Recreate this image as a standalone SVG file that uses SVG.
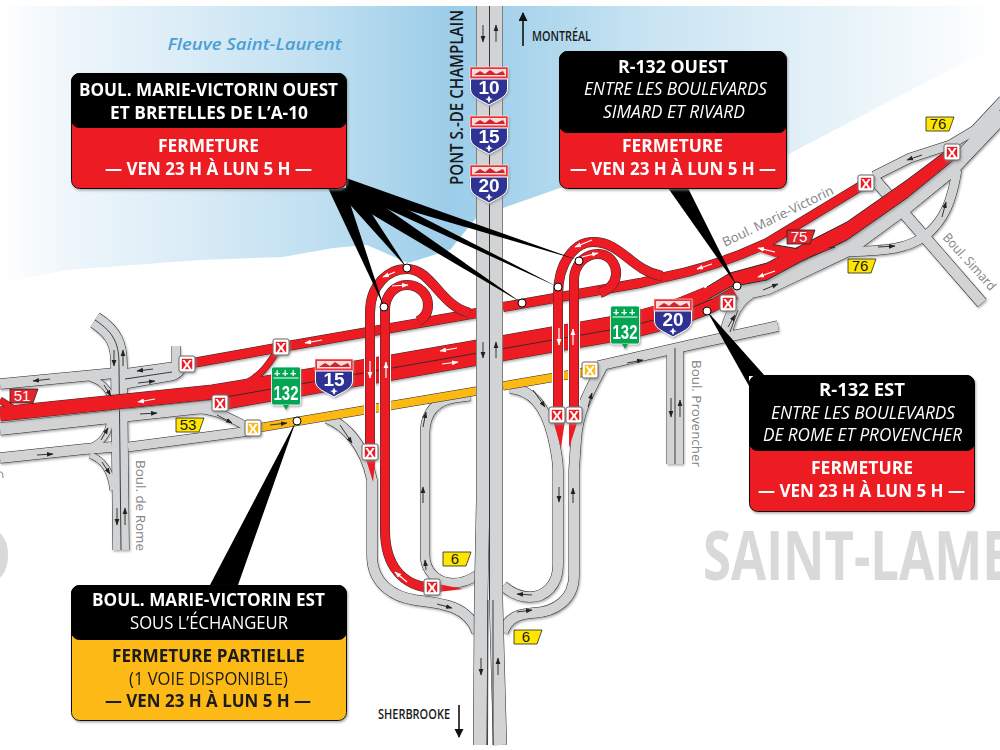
<svg xmlns="http://www.w3.org/2000/svg" width="1000" height="750" viewBox="0 0 1000 750">
<style>
.n{fill:none}
.k{fill:none;stroke:#2b2b2b}.g{fill:none;stroke:#d1d3d4}.r{fill:none;stroke:#ed1c24}.y{fill:none;stroke:#fdb913}.h{fill:none;stroke:#fff}
.l{fill:none;stroke:#2b2b2b;stroke-width:.9}
.w6{stroke-width:6}.w7{stroke-width:7}.w8{stroke-width:8}.w9{stroke-width:9}.w10{stroke-width:10}.w11{stroke-width:11}.w12{stroke-width:12}.w13{stroke-width:13}.w14{stroke-width:14}.w15{stroke-width:15}.w16{stroke-width:16}.w17{stroke-width:17}
.a{fill:none;stroke:#222;stroke-width:.9;marker-end:url(#ab)}
.aw{fill:none;stroke:#fff;stroke-width:1.2;marker-end:url(#aw)}
.big{fill:none;stroke:#111;stroke-width:1.6;marker-end:url(#abig)}
text{font-family:"Open Sans","Noto Sans","Liberation Sans",sans-serif}
.b{font-weight:700}.i{font-style:italic}
.wt{fill:#fff}.dk{fill:#1a1a1a}
.t{font-size:18px}
.lab{font-size:13px;fill:#808285}
.xr{fill:#ed1c24;stroke:#fff;stroke-width:1.6}.xy{fill:#fdb913;stroke:#fff;stroke-width:1.6}
.xf{fill:#fff;stroke:#666;stroke-width:1}
.xt{font-family:"Liberation Sans",sans-serif;font-weight:700;font-size:15px;fill:#fff;text-anchor:middle}
.ex{stroke:#222;stroke-width:.8;stroke-linejoin:round}
.ext{font-family:"Liberation Sans",sans-serif;font-size:15px;text-anchor:middle}
.sh{font-family:"Liberation Sans",sans-serif;font-weight:700;font-size:19px;fill:#fff;text-anchor:middle}
.gr{font-family:"Liberation Sans",sans-serif;font-weight:700;fill:#fff;text-anchor:middle}
.ld{fill:#000}.dot{fill:#fff;stroke:#000;stroke-width:1}
</style>
<defs>
<linearGradient id="w" gradientUnits="userSpaceOnUse" x1="0" y1="0" x2="1000" y2="0">
<stop offset="0" stop-color="#fff"/><stop offset=".07" stop-color="#eef6fb"/><stop offset=".2" stop-color="#d8ebf6"/><stop offset=".32" stop-color="#bfdff1"/><stop offset=".45" stop-color="#9ccde9"/><stop offset=".52" stop-color="#a8d4ec"/><stop offset=".66" stop-color="#cbe5f3"/><stop offset=".82" stop-color="#e4f1f8"/><stop offset="1" stop-color="#fff"/>
</linearGradient>
<filter id="s" x="-5%" y="-5%" width="110%" height="110%"><feDropShadow dx="1" dy="1.5" stdDeviation=".8" flood-color="#888" flood-opacity=".7"/></filter>
<marker id="ab" markerUnits="userSpaceOnUse" markerWidth="7" markerHeight="6" refX="6" refY="3" orient="auto"><path d="M0,.6L6.500,3L0,5.400z" fill="#222"/></marker>
<marker id="aw" markerUnits="userSpaceOnUse" markerWidth="7" markerHeight="6" refX="6" refY="3" orient="auto"><path d="M0,.6L6.500,3L0,5.400z" fill="#fff"/></marker>
<marker id="abig" markerUnits="userSpaceOnUse" markerWidth="9" markerHeight="12" refX="8" refY="4.500" orient="auto"><path d="M0,0L9,4.500L0,9z" fill="#111"/></marker>
<path id="rome" d="M95,320C115,333 119,345 119,365L121,550"/>
<path id="w1" d="M0,384L115,373"/><path id="w2" d="M90,378C103,382 110,390 112,402"/>
<path id="e1" d="M125,374L182,366"/><path id="e2" d="M125,384L172,376Q182,372 180,366"/><path id="e3" d="M176,346L176,364"/>
<path id="s1" d="M0,458L85,449L112,447"/><path id="s2" d="M85,449C100,445 108,435 110,422"/><path id="s3" d="M90,455C103,460 111,470 113,490"/>
<path id="s4" d="M128,447L250,431"/><path id="m" d="M0,429L213,406"/><path id="m2" d="M190,409C215,408 230,418 250,428"/>
<path id="gr" d="M730,295L767,287L847,249L907,205L950,170L1003,114"/>
<path id="gr2" d="M750,293Q733,303 726,333"/>
<path id="sv" d="M874,176L910,158L950,145L975,130L1003,100"/>
<path id="si" d="M875,180L982,303"/>
<path id="rp" d="M957,170C952,200 945,220 925,236C905,250 885,250 850,252"/>
<path id="mve" d="M598,366L690,345L778,326"/><path id="pr" d="M675,348L675,464"/>
<path id="eL" d="M510,388C530,390 545,403 553,437C556,450 558,460 558,470L558,565C558,585 545,597 530,597C518,597 510,592 503,586"/>
<path id="eR" d="M603,365C590,390 578,410 576,440L574,470L574,575C574,600 555,612 533,613C518,614 508,618 503,632"/>
<path id="wO" d="M327,418C345,425 365,445 372,480L372,555C372,585 395,597 415,600C440,603 468,605 477,632"/>
<path id="wI" d="M470,396L455,398Q426,402 425,432L425,555C425,572 438,583 453,583C462,583 470,580 477,575"/>
<path id="yw" d="M258,428L477,391"/><path id="ye" d="M503,386L585,372"/>
<path id="nb" d="M0,414L213,392L392,362L610,324C650,317 680,306 707,294"/>
<path id="sb" d="M220,404L392,374L610,336C650,329 685,318 712,306L735,293"/>
<path id="upw" d="M187,364L282,347L477,313"/>
<path id="upe" d="M503,307L640,283L665,277C700,270 735,258 767,243L866,183"/>
<path id="oW" d="M370,452L370,313C370,285 388,269 407,269C432,269 440,306 470,313"/>
<path id="iW" d="M432,588C402,586 385,565 385,530L385,310C385,295 395,285 407,285C420,285 428,295 428,305C428,312 425,318 418,321"/>
<path id="oE" d="M558,418L558,295C558,262 575,242 593,242C622,242 630,270 662,276"/>
<path id="iE" d="M574,418L574,280C574,265 585,254 598,254C610,254 617,265 616,275C615,285 608,290 600,293"/>
<path id="bL" d="M483,6L483,500L481,600L480,745"/><path id="bR" d="M496,6L496,600L500,745"/>
<g id="shield">
<rect x="-19" y="0" width="38" height="12" fill="#ed3237" stroke="#fff" stroke-width=".5"/>
<rect x="-17" y="2" width="34" height="7.500" fill="#f9dcdc"/>
<path d="M-15,8L-9,4L-4,7L1,3L7,7L14,4L16,8z" fill="#d2232a"/>
<path d="M-18.500,12L18.500,12L18.500,22C18.500,30 8,33 0,38C-8,33 -18.500,30 -18.500,22z" fill="#2e3192" stroke="#fff" stroke-width="1"/>
<path d="M0,28.500L1.500,31.400L4,32L1.500,33L0,36L-1.500,33L-4,32L-1.500,31.400z" fill="#fff"/>
</g>
<g id="grn">
<rect x="-14.500" y="0" width="29" height="38" rx="2" fill="#00a651" stroke="#fff" stroke-width=".8"/>
<line x1="-12.500" x2="12.500" y1="11" y2="11" stroke="#fff" stroke-width="1"/>
<path d="M-3,38L3,38L0,43z" fill="#00a651"/>
</g>
<path id="exs" d="M0,0L28,0L23,14L0,14z"/>
</defs>

<rect width="1000" height="750" fill="#fff"/>
<path d="M0,6L1000,6L1000,45L930,80L787,155L700,165L560,188L503,208L476,218L450,250L408,263L367,245L333,248L283,257L200,260L67,270L0,283z" fill="url(#w)"/>
<text x="167.500" y="50" class="i" font-size="16" font-weight="600" fill="#4a9fd4" textLength="174" lengthAdjust="spacingAndGlyphs">Fleuve Saint-Laurent</text>
<text x="703" y="580" class="b" font-size="68" fill="#d9d9da" textLength="405" lengthAdjust="spacingAndGlyphs">SAINT-LAMBERT</text>
<path d="M0,533C7,540 8,548 8,555C8,563 6,572 0,578z" fill="#d9d9da"/>
<path d="M0,472Q3,471 3,478" class="n" stroke="#808285" stroke-width="1"/>

<g id="roads">
<g id="roads-gray" filter="url(#s)">
<g>
<use href="#rome" class="k w17"/><use href="#w1" class="k w11"/><use href="#w2" class="k w7"/><use href="#e1" class="k w11"/><use href="#e2" class="k w10"/><use href="#e3" class="k w9"/><use href="#s1" class="k w11"/><use href="#s2" class="k w7"/><use href="#s3" class="k w7"/><use href="#s4" class="k w10"/><use href="#m" class="k w13"/><use href="#m2" class="k w9"/>
<use href="#si" class="k w12"/><use href="#gr" class="k w16"/><use href="#gr2" class="k w13"/><use href="#sv" class="k w10"/><use href="#rp" class="k w10"/><use href="#mve" class="k w11"/><use href="#pr" class="k w17"/><use href="#eL" class="k w11"/><use href="#eR" class="k w11"/><use href="#wO" class="k w11"/><use href="#wI" class="k w10"/>
</g>
<g>
<use href="#rome" class="g w16"/><use href="#w1" class="g w10"/><use href="#w2" class="g w6"/><use href="#e1" class="g w10"/><use href="#e2" class="g w9"/><use href="#e3" class="g w8"/><use href="#s1" class="g w10"/><use href="#s2" class="g w6"/><use href="#s3" class="g w6"/><use href="#s4" class="g w9"/><use href="#m" class="g w12"/><use href="#m2" class="g w8"/>
<use href="#si" class="g w11"/><use href="#gr" class="g w15"/><use href="#gr2" class="g w12"/><use href="#sv" class="g w9"/><use href="#rp" class="g w9"/><use href="#mve" class="g w10"/><use href="#pr" class="g w16"/><use href="#eL" class="g w10"/><use href="#eR" class="g w10"/><use href="#wO" class="g w10"/><use href="#wI" class="g w9"/>
</g>
<use href="#rome" class="l"/><use href="#pr" class="l"/><path class="l" d="M125,379L172,372"/><path class="l" d="M730,332L738,310"/>
</g>
<g id="roads-yellow">
<use href="#yw" class="k w9"/><use href="#ye" class="k w9"/><use href="#yw" class="y w8"/><use href="#ye" class="y w8"/>
</g>
<g id="roads-red-main" filter="url(#s)">
<g>
<use href="#nb" class="k w15"/><use href="#sb" class="k w13"/><use href="#upw" class="k w10"/><use href="#upe" class="k w10"/>
<path d="M278,350C268,365 262,375 245,384" class="k w7"/>
<path d="M0,400L14,409" class="k w7"/>
<path d="M707,287L730,273L767,263L800,246L847,222L907,180L947,150L956,158L907,198L847,240L800,262L767,280L730,287L707,300z" fill="#ed1c24" stroke="#2b2b2b" stroke-width="1"/>
<path d="M755,248L770,244L805,250L835,247L812,256L775,256z" fill="#ed1c24" stroke="#2b2b2b" stroke-width="1"/>
</g>
<use href="#nb" class="r w14"/><use href="#sb" class="r w12"/><use href="#upw" class="r w9"/><use href="#upe" class="r w9"/>
<path d="M278,350C268,365 262,375 245,384" class="r w6"/><path d="M0,400L14,409" class="r w6"/>
<path d="M700,291L730,275L767,264L800,247L847,223L907,181L947,151L955,158L907,197L847,239L800,261L767,279L730,286L700,300z" fill="#ed1c24"/>
<path d="M757,251L771,246L800,252L832,248L810,256L775,257z" fill="#ed1c24"/>
<path class="l" d="M220,398L392,368L610,330C650,323 685,311 712,299"/>
</g>
<g id="roads-bridge">
<use href="#bL" class="k w14"/><use href="#bR" class="k w14"/><use href="#bL" class="g w13"/><use href="#bR" class="g w13"/>
<path class="l" d="M489.500,6L489.500,600"/><path class="l" d="M488,600L487.500,745M493,600L493,745"/>
</g>
<g id="roads-loops">
<path class="h w12" d="M370,340L370,445M385,340L385,560M558,305L558,405M574,305L574,405"/>
<use href="#oW" class="k w10"/><use href="#iW" class="k w10"/><use href="#oE" class="k w10"/><use href="#iE" class="k w10"/>
<use href="#oW" class="r w9"/><use href="#iW" class="r w9"/><use href="#oE" class="r w9"/><use href="#iE" class="r w9"/>
<path d="M553,420L565,420L561,448zM569,420L578,420L569,448zM365,456L376,456L373,482zM438,584L438,592L463,589z" fill="#ed1c24"/>
</g>
<g id="arrows">
<path class="a" d="M483,25V42"/><path class="a" d="M496,42V25"/><path class="a" d="M483,342V358"/><path class="a" d="M496,358V342"/><path class="a" d="M481,658V675"/><path class="a" d="M498,675V658"/>
<path class="aw" d="M370,361V378"/><path class="aw" d="M386,378V362"/><path class="aw" d="M559,328V345"/><path class="aw" d="M573,345V329"/>
<path class="aw" d="M457,348L440,351"/><path class="aw" d="M442,364L458,362"/><path class="aw" d="M395,272L383,277"/><path class="aw" d="M392,286L408,285"/><path class="aw" d="M592,240L575,247"/><path class="aw" d="M582,257L598,253"/>
<path class="aw" d="M322,340L305,343"/><path class="aw" d="M712,264L697,269"/><path class="aw" d="M775,271L758,277"/><path class="aw" d="M775,252L758,248"/><path class="aw" d="M155,399L138,402"/><path class="aw" d="M263,360L253,373"/><path class="aw" d="M407,582L395,572"/>
<path class="a" d="M140,414L157,413"/><path class="a" d="M217,415L232,423"/><path class="a" d="M270,425L287,423"/><path class="a" d="M153,369L137,371"/><path class="a" d="M138,383L155,381"/><path class="a" d="M50,379L33,381"/><path class="a" d="M37,455L53,454"/>
<path class="a" d="M114,350V366"/><path class="a" d="M123,366V350"/><path class="a" d="M117,508V525"/><path class="a" d="M125,525V508"/>
<path class="a" d="M671,398V417"/><path class="a" d="M680,417V400"/><path class="a" d="M627,363L643,360"/><path class="a" d="M728,327L735,315"/>
<path class="a" d="M763,290L778,284"/><path class="a" d="M922,155L907,160"/><path class="a" d="M942,217L946,202"/><path class="a" d="M878,247L895,246"/>
<path class="a" d="M423,503V487"/><path class="a" d="M559,487V502"/><path class="a" d="M573,503V488"/><path class="a" d="M426,570L425,560"/><path class="a" d="M437,604L452,608"/><path class="a" d="M532,595L517,594"/><path class="a" d="M517,612L532,610"/>
<path class="a" d="M533,390L545,407"/><path class="a" d="M588,407L592,393"/><path class="a" d="M423,427L426,412"/><path class="a" d="M340,425L352,443"/>
<path class="a" d="M104,385L111,396"/><path class="a" d="M101,440L108,428"/><path class="a" d="M102,462L110,474"/>
</g>
</g>

<path class="big" d="M523,46V13"/>
<path class="big" d="M459,705V737"/>
<text x="532" y="41" class="dk" font-size="14.500" font-weight="600" textLength="59" lengthAdjust="spacingAndGlyphs">MONTRÉAL</text>
<text x="378" y="719" class="dk" font-size="15" font-weight="600" textLength="72" lengthAdjust="spacingAndGlyphs">SHERBROOKE</text>
<text transform="translate(463,185) rotate(-90) scale(.84,1)" class="dk" font-size="18" font-weight="600">PONT S.-DE CHAMPLAIN</text>
<text transform="translate(136,460) rotate(90)" class="lab" textLength="91" lengthAdjust="spacingAndGlyphs">Boul. de Rome</text>
<text transform="translate(692,360) rotate(90)" class="lab" textLength="107" lengthAdjust="spacingAndGlyphs">Boul. Provencher</text>
<text transform="translate(725,247) rotate(-26)" class="lab" textLength="122" lengthAdjust="spacingAndGlyphs">Boul. Marie-Victorin</text>
<text transform="translate(942,238) rotate(48)" class="lab" font-size="12" textLength="72" lengthAdjust="spacingAndGlyphs">Boul. Simard</text>

<g id="exit-51" transform="translate(10,389)"><use href="#exs" class="ex" fill="#e0262c"/><text x="12" y="12" class="ext wt">51</text></g>
<g id="exit-75" transform="translate(787,230)"><use href="#exs" class="ex" fill="#e0262c"/><text x="12" y="12" class="ext wt">75</text></g>
<g id="exit-76a" transform="translate(926,117)"><use href="#exs" class="ex" fill="#ffe600"/><text x="12" y="12" class="ext dk">76</text></g>
<g id="exit-76b" transform="translate(848,259)"><use href="#exs" class="ex" fill="#ffe600"/><text x="12" y="12" class="ext dk">76</text></g>
<g id="exit-53" transform="translate(176,418)"><use href="#exs" class="ex" fill="#ffe600"/><text x="12" y="12" class="ext dk">53</text></g>
<g id="exit-6a" transform="translate(443,552)"><use href="#exs" class="ex" fill="#ffe600"/><text x="12" y="12" class="ext dk">6</text></g>
<g id="exit-6b" transform="translate(514,630)"><use href="#exs" class="ex" fill="#ffe600"/><text x="12" y="12" class="ext dk">6</text></g>

<g id="x-marks" filter="url(#s)">
<g id="x1" transform="translate(952,152)"><rect x="-8" y="-8" width="16" height="16" rx="2" class="xf"/><rect x="-6" y="-6" width="12" height="12" class="xr"/><text y="5.500" class="xt">X</text></g>
<g id="x2" transform="translate(866,183)"><rect x="-8" y="-8" width="16" height="16" rx="2" class="xf"/><rect x="-6" y="-6" width="12" height="12" class="xr"/><text y="5.500" class="xt">X</text></g>
<g id="x3" transform="translate(728,303)"><rect x="-8" y="-8" width="16" height="16" rx="2" class="xf"/><rect x="-6" y="-6" width="12" height="12" class="xr"/><text y="5.500" class="xt">X</text></g>
<g id="x4" transform="translate(281,347)"><rect x="-8" y="-8" width="16" height="16" rx="2" class="xf"/><rect x="-6" y="-6" width="12" height="12" class="xr"/><text y="5.500" class="xt">X</text></g>
<g id="x5" transform="translate(187,364)"><rect x="-8" y="-8" width="16" height="16" rx="2" class="xf"/><rect x="-6" y="-6" width="12" height="12" class="xr"/><text y="5.500" class="xt">X</text></g>
<g id="x6" transform="translate(220,403)"><rect x="-8" y="-8" width="16" height="16" rx="2" class="xf"/><rect x="-6" y="-6" width="12" height="12" class="xr"/><text y="5.500" class="xt">X</text></g>
<g id="x7" transform="translate(253,428)"><rect x="-8" y="-8" width="16" height="16" rx="2" class="xf"/><rect x="-6" y="-6" width="12" height="12" class="xy"/><text y="5.500" class="xt">X</text></g>
<g id="x8" transform="translate(590,370)"><rect x="-8" y="-8" width="16" height="16" rx="2" class="xf"/><rect x="-6" y="-6" width="12" height="12" class="xy"/><text y="5.500" class="xt">X</text></g>
<g id="x9" transform="translate(557,415)"><rect x="-8" y="-8" width="16" height="16" rx="2" class="xf"/><rect x="-6" y="-6" width="12" height="12" class="xr"/><text y="5.500" class="xt">X</text></g>
<g id="x10" transform="translate(574,415)"><rect x="-8" y="-8" width="16" height="16" rx="2" class="xf"/><rect x="-6" y="-6" width="12" height="12" class="xr"/><text y="5.500" class="xt">X</text></g>
<g id="x11" transform="translate(370,452)"><rect x="-8" y="-8" width="16" height="16" rx="2" class="xf"/><rect x="-6" y="-6" width="12" height="12" class="xr"/><text y="5.500" class="xt">X</text></g>
<g id="x12" transform="translate(432,587)"><rect x="-8" y="-8" width="16" height="16" rx="2" class="xf"/><rect x="-6" y="-6" width="12" height="12" class="xr"/><text y="5.500" class="xt">X</text></g>
</g>

<g id="shields" filter="url(#s)">
<g id="sh-10" transform="translate(489,67)"><use href="#shield"/><text y="27" class="sh">10</text></g>
<g id="sh-15" transform="translate(489,116)"><use href="#shield"/><text y="27" class="sh">15</text></g>
<g id="sh-20" transform="translate(489,165)"><use href="#shield"/><text y="27" class="sh">20</text></g>
<g id="sh-15b" transform="translate(334,359)"><use href="#shield"/><text y="27" class="sh">15</text></g>
<g id="sh-20b" transform="translate(673,299)"><use href="#shield"/><text y="27" class="sh">20</text></g>
<g id="gr-132a" transform="translate(286,367)"><use href="#grn"/><text y="9.500" class="gr" font-size="11" letter-spacing="1.500">+++</text><text y="33" class="gr" font-size="21" textLength="25" lengthAdjust="spacingAndGlyphs">132</text></g>
<g id="gr-132b" transform="translate(625,306)"><use href="#grn"/><text y="9.500" class="gr" font-size="11" letter-spacing="1.500">+++</text><text y="33" class="gr" font-size="21" textLength="25" lengthAdjust="spacingAndGlyphs">132</text></g>
</g>

<g id="connectors">
<polygon class="ld" points="328,188 345,188 384,307"/>
<polygon class="ld" points="335,188 355,188 407,268"/>
<polygon class="ld" points="346,199 346,180 522,303"/>
<polygon class="ld" points="346,190 346,178 558,287"/>
<polygon class="ld" points="346,178 346,192 578,260"/>
<polygon class="ld" points="668,188 688,188 737,286"/>
<polygon class="ld" points="707,311 765,376 749,376 749,386"/>
<polygon class="ld" points="210,585 238,585 296,421"/>
<circle class="dot" cx="407" cy="268" r="4"/><circle class="dot" cx="384" cy="307" r="4"/><circle class="dot" cx="522" cy="303" r="4"/><circle class="dot" cx="558" cy="287" r="4"/><circle class="dot" cx="579" cy="261" r="4"/><circle class="dot" cx="737" cy="286" r="4"/><circle class="dot" cx="707" cy="311" r="4"/><circle class="dot" cx="297" cy="421" r="4"/>
</g>

<g id="callout-ouest" filter="url(#s)">
<rect x="71.500" y="73.500" width="275" height="115" rx="8" fill="#ed1c24" stroke="#111"/>
<rect x="71.500" y="73.500" width="275" height="54" rx="8" fill="#000" stroke="#000"/>
<text x="79" y="96" class="b wt t" textLength="259" lengthAdjust="spacingAndGlyphs">BOUL. MARIE-VICTORIN OUEST</text>
<text x="110" y="119" class="b wt t" textLength="198" lengthAdjust="spacingAndGlyphs">ET BRETELLES DE L’A-10</text>
<text x="158" y="152" class="b wt t" textLength="101" lengthAdjust="spacingAndGlyphs">FERMETURE</text>
<text x="105" y="175" class="b wt t" textLength="207" lengthAdjust="spacingAndGlyphs">— VEN 23 H À LUN 5 H —</text>
</g>
<g id="callout-r132-ouest" filter="url(#s)">
<rect x="559.500" y="51.500" width="227" height="137" rx="8" fill="#ed1c24" stroke="#111"/>
<rect x="559.500" y="51.500" width="227" height="81" rx="8" fill="#000" stroke="#000"/>
<text x="618" y="73" class="b wt t" textLength="110" lengthAdjust="spacingAndGlyphs">R-132 OUEST</text>
<text x="584" y="95" class="i wt t" textLength="183" lengthAdjust="spacingAndGlyphs">ENTRE LES BOULEVARDS</text>
<text x="603" y="118" class="i wt t" textLength="142" lengthAdjust="spacingAndGlyphs">SIMARD ET RIVARD</text>
<text x="622" y="152" class="b wt t" textLength="101" lengthAdjust="spacingAndGlyphs">FERMETURE</text>
<text x="570" y="175" class="b wt t" textLength="206" lengthAdjust="spacingAndGlyphs">— VEN 23 H À LUN 5 H —</text>
</g>
<g id="callout-r132-est" filter="url(#s)">
<rect x="749.500" y="375.500" width="225" height="136" rx="8" fill="#ed1c24" stroke="#111"/>
<rect x="749.500" y="375.500" width="225" height="75" rx="8" fill="#000" stroke="#000"/>
<text x="819" y="396" class="b wt t" textLength="86" lengthAdjust="spacingAndGlyphs">R-132 EST</text>
<text x="771" y="419" class="i wt t" textLength="184" lengthAdjust="spacingAndGlyphs">ENTRE LES BOULEVARDS</text>
<text x="763" y="441" class="i wt t" textLength="199" lengthAdjust="spacingAndGlyphs">DE ROME ET PROVENCHER</text>
<text x="811" y="474" class="b wt t" textLength="102" lengthAdjust="spacingAndGlyphs">FERMETURE</text>
<text x="758" y="497" class="b wt t" textLength="207" lengthAdjust="spacingAndGlyphs">— VEN 23 H À LUN 5 H —</text>
</g>
<g id="callout-est" filter="url(#s)">
<rect x="71.500" y="585.500" width="275" height="135" rx="8" fill="#fdb913" stroke="#111"/>
<rect x="71.500" y="585.500" width="275" height="54" rx="8" fill="#000" stroke="#000"/>
<text x="92" y="606" class="b wt t" textLength="233" lengthAdjust="spacingAndGlyphs">BOUL. MARIE-VICTORIN EST</text>
<text x="130" y="629" class="wt t" textLength="158" lengthAdjust="spacingAndGlyphs">SOUS L’ÉCHANGEUR</text>
<text x="112" y="662" class="b dk t" textLength="193" lengthAdjust="spacingAndGlyphs">FERMETURE PARTIELLE</text>
<text x="129" y="685" class="dk t" textLength="159" lengthAdjust="spacingAndGlyphs">(1 VOIE DISPONIBLE)</text>
<text x="105" y="707" class="b dk t" textLength="206" lengthAdjust="spacingAndGlyphs">— VEN 23 H À LUN 5 H —</text>
</g>
</svg>
